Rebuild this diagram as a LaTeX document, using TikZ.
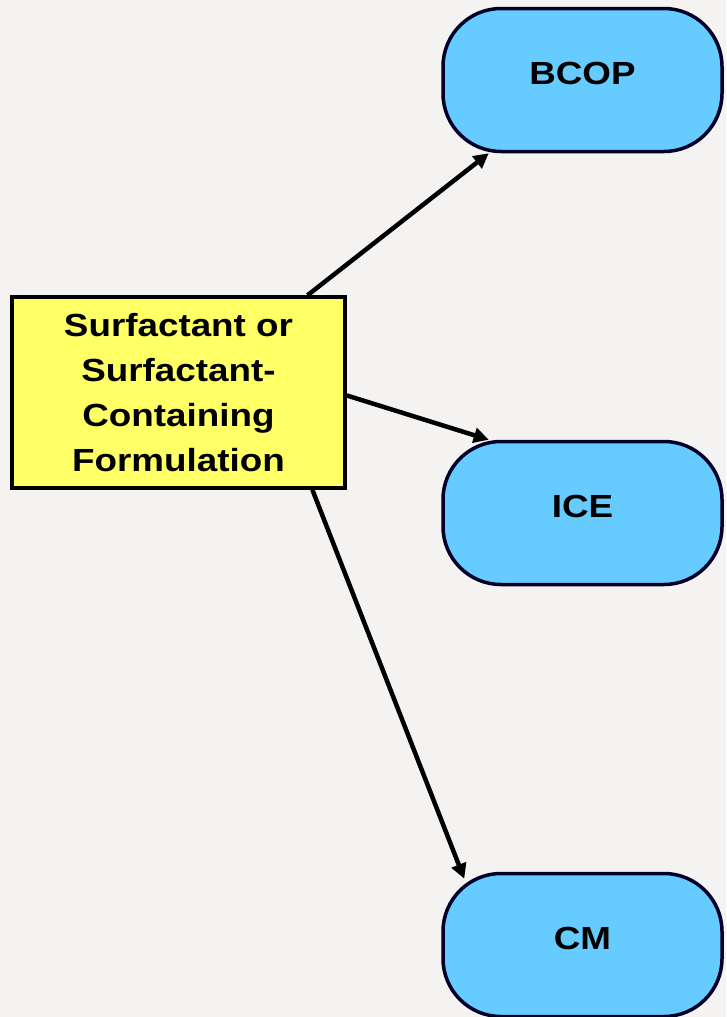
\documentclass[tikz,border=0pt]{standalone}
\usepackage{fontspec}
\setmainfont[FakeStretch=1.15]{Liberation Sans}
\usetikzlibrary{arrows.meta}
\definecolor{bggray}{HTML}{F4F3F1}
\definecolor{testblue}{HTML}{66CCFF}
\definecolor{agentyellow}{HTML}{FFFF66}

\begin{document}
\begin{tikzpicture}[x=1pt,y=-1pt,
	testbox/.style={draw=black!85!blue,line width=3.5pt,fill=testblue,rounded corners=58pt,minimum width=279pt,minimum height=143pt,text depth=14pt,font=\fontsize{32}{36}\selectfont\bfseries},
	agentbox/.style={draw=black,line width=3.5pt,fill=agentyellow,minimum width=333pt,minimum height=191pt,align=center,font=\fontsize{32}{45}\selectfont\bfseries},
	link/.style={-{Triangle[length=15pt,width=15pt]},line width=4.5pt}]
		\fill[bggray] (0,0) rectangle (726,1017);
		\clip (0,0) rectangle (726,1017);
		% the three tests
		\node[testbox] (bcop) at (582.5,80) {BCOP};
		\node[testbox] (ice) at (582.5,513) {ICE};
		\node[testbox] (cm) at (582.5,945) {CM};
		\node[agentbox] (agent) at (178.5,392.5) {Surfactant or\\Surfactant-\\Containing\\Formulation};
		\draw[link] (agent.37) -- (bcop.218);
		\draw[link] (agent.-1) -- (ice.142);
		\draw[link] (agent.-36) -- ([shift={(23pt,-7pt)}]cm.north west);
\end{tikzpicture}
\end{document}
